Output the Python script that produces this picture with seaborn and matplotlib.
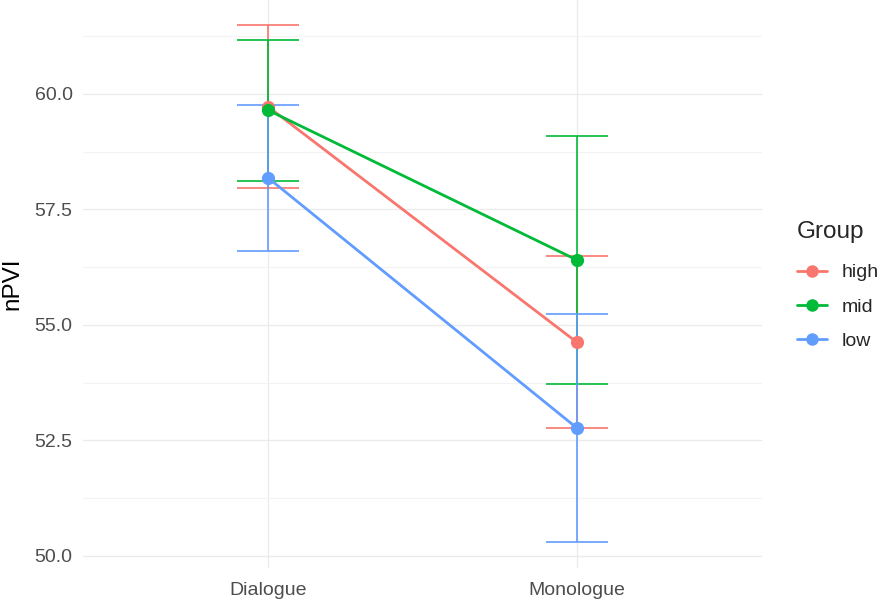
import matplotlib
matplotlib.use("Agg")
import matplotlib.pyplot as plt
import seaborn as sns
import pandas as pd
from matplotlib.lines import Line2D
from matplotlib.ticker import MultipleLocator

contexts = ["Dialogue", "Monologue"]
groups = ["high", "mid", "low"]
means = {
    "high": [59.72, 54.625],
    "mid": [59.645, 56.405],
    "low": [58.18, 52.77],
}
errs = {
    "high": [1.76, 1.865],
    "mid": [1.525, 2.675],
    "low": [1.58, 2.47],
}
palette = {"high": "#F8766D", "mid": "#00BA38", "low": "#619CFF"}

rows = []
for g in groups:
    for i, c in enumerate(contexts):
        rows.append({"Context": c, "Group": g, "nPVI": means[g][i], "err": errs[g][i]})
df = pd.DataFrame(rows)

sns.set_theme(style="white")
plt.rcParams["font.family"] = ["Liberation Sans", "DejaVu Sans"]

fig = plt.figure(figsize=(8.81, 5.99), dpi=100)
ax = fig.add_axes([83 / 881, 31 / 599, 679 / 881, 568 / 599])

xpos = {c: i for i, c in enumerate(contexts)}
# error bars
for g in groups:
    sub = df[df.Group == g]
    ax.errorbar([xpos[c] for c in sub.Context], sub.nPVI, yerr=sub.err, fmt="none",
                ecolor=palette[g], elinewidth=1.2, capsize=22, capthick=1.2, zorder=3)

sns.lineplot(data=df, x="Context", y="nPVI", hue="Group", hue_order=groups,
             palette=palette, linewidth=2.0, marker="o", markersize=9.5,
             markeredgewidth=0, ax=ax, legend=False, zorder=4, sort=False)

ax.set_xlim(-0.6, 1.6)
ax.set_ylim(49.74, 62.03)
ax.set_xticks([0, 1])
ax.set_xticklabels(contexts)
ax.yaxis.set_minor_locator(MultipleLocator(1.25))
ax.set_yticks([50, 52.5, 55, 57.5, 60])
ax.set_yticklabels(["50.0", "52.5", "55.0", "57.5", "60.0"])
ax.grid(True, which="major", color="#EBEBEB", linewidth=1.0)
ax.grid(True, which="minor", axis="y", color="#F3F3F3", linewidth=0.8)
ax.set_axisbelow(True)
for s in ax.spines.values():
    s.set_visible(False)
ax.tick_params(axis="both", which="both", length=0, labelsize=14, labelcolor="#4D4D4D")
ax.tick_params(axis="y", pad=7.5)
ax.tick_params(axis="x", pad=10)
ax.set_xlabel("")
ax.set_ylabel("nPVI", fontsize=17.5, color="black", labelpad=8)

handles = [Line2D([0], [0], color=palette[g], linewidth=2.0, marker="o", markersize=9,
                  markeredgewidth=0) for g in groups]
leg = fig.legend(handles, groups, title="Group", loc="upper left",
                 bbox_to_anchor=(797 / 881, 1 - 221 / 599), frameon=False, fontsize=14,
                 title_fontsize=17.5, handlelength=1.55, labelspacing=0.85,
                 handletextpad=0.75, borderpad=0, borderaxespad=0)
leg._legend_box.align = "left"
leg._legend_box.sep = 15

fig.savefig("out.png", dpi=100)
